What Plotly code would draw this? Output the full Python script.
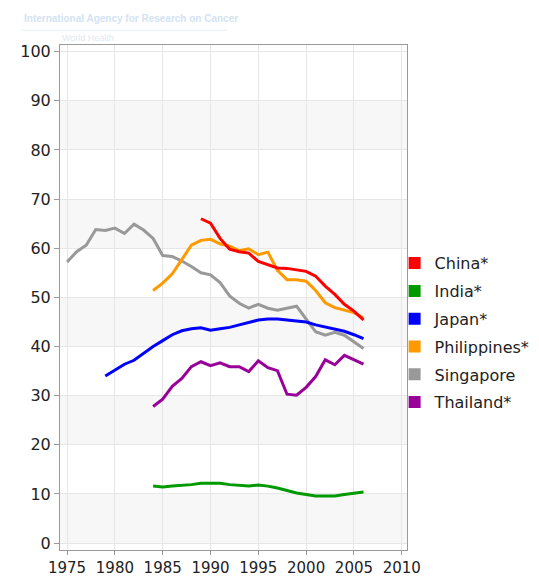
import plotly.graph_objects as go

# ---- data ----
countries = ["China*", "India*", "Japan*", "Philippines*", "Singapore", "Thailand*"]
colors = ["#ff0000", "#009900", "#0000ff", "#ff9900", "#999999", "#990099"]

china_years = list(range(1989, 2007))
china_vals = [66.0, 65.1, 62.0, 59.8, 59.3, 59.0, 57.3, 56.6, 56.0, 55.9,
              55.6, 55.3, 54.3, 52.3, 50.6, 48.6, 47.2, 45.4]

india_years = list(range(1984, 2007))
india_vals = [11.6, 11.4, 11.6, 11.7, 11.9, 12.2, 12.2, 12.2, 11.9, 11.8,
              11.6, 11.8, 11.6, 11.2, 10.7, 10.2, 9.9, 9.6, 9.6, 9.6,
              9.9, 10.2, 10.4]

japan_years = list(range(1979, 2007))
japan_vals = [34.0, 35.2, 36.4, 37.2, 38.6, 40.0, 41.2, 42.4, 43.2, 43.6,
              43.8, 43.3, 43.6, 43.9, 44.4, 44.9, 45.4, 45.6, 45.6, 45.4,
              45.2, 45.0, 44.4, 44.0, 43.6, 43.1, 42.4, 41.6]

philippines_years = list(range(1984, 2007))
philippines_vals = [51.4, 52.9, 54.8, 57.6, 60.6, 61.6, 61.8, 60.9, 60.4, 59.5,
                    59.9, 58.7, 59.2, 55.5, 53.6, 53.6, 53.3, 51.4, 48.9, 47.9,
                    47.4, 46.9, 45.8]

singapore_years = list(range(1975, 2007))
singapore_vals = [57.2, 59.3, 60.6, 63.8, 63.6, 64.1, 63.0, 64.9, 63.7, 62.0,
                  58.5, 58.3, 57.4, 56.3, 55.0, 54.6, 53.0, 50.3, 48.8, 47.8,
                  48.6, 47.8, 47.4, 47.8, 48.2, 45.6, 43.0, 42.3, 42.9, 42.3,
                  41.0, 39.6]

thailand_years = list(range(1984, 2007))
thailand_vals = [27.8, 29.3, 31.9, 33.5, 35.9, 36.9, 36.1, 36.7, 35.9, 35.9,
                 34.9, 37.1, 35.7, 35.1, 30.3, 30.1, 31.7, 33.9, 37.3, 36.3,
                 38.2, 37.3, 36.4]

x_ticks = [1975, 1980, 1985, 1990, 1995, 2000, 2005, 2010]
y_ticks = [0, 10, 20, 30, 40, 50, 60, 70, 80, 90, 100]

series = {
    "China*": (china_years, china_vals),
    "India*": (india_years, india_vals),
    "Japan*": (japan_years, japan_vals),
    "Philippines*": (philippines_years, philippines_vals),
    "Singapore": (singapore_years, singapore_vals),
    "Thailand*": (thailand_years, thailand_vals),
}
color_of = dict(zip(countries, colors))

fig = go.Figure()

draw_order = ["Singapore", "Thailand*", "India*", "Japan*", "Philippines*", "China*"]
for name in draw_order:
    xs, ys = series[name]
    fig.add_trace(go.Scatter(x=xs, y=ys, mode="lines", name=name,
                             line=dict(color=color_of[name], width=3),
                             showlegend=False, hoverinfo="x+y+name"))

# legend entries as coloured squares
for name in countries:
    fig.add_trace(go.Scatter(x=[None], y=[None], mode="markers", name=name,
                             legendgroup=name,
                             marker=dict(symbol="square", size=12, color=color_of[name]),
                             showlegend=True))

# alternating horizontal bands
shapes = []
for lo in range(0, 100, 20):
    shapes.append(dict(type="rect", xref="paper", yref="y", x0=0, x1=1,
                       y0=lo, y1=lo + 10, fillcolor="#f7f7f7",
                       line=dict(width=0), layer="below"))
# faint header rule
shapes.append(dict(type="line", xref="paper", yref="paper",
                   x0=-0.11, x1=0.48, y0=1.0 + 15 / 511.7, y1=1.0 + 15 / 511.7,
                   line=dict(color="#e4eef8", width=1)))

fig.update_layout(
    width=539, height=581,
    margin=dict(l=49, r=126, t=37, b=32),
    paper_bgcolor="white",
    plot_bgcolor="white",
    shapes=shapes,
    showlegend=True,
    legend=dict(
        x=(400 - 49) / 364, xanchor="left",
        y=(549 - 241) / 512, yanchor="top",
        font=dict(family="DejaVu Sans", size=16, color="#222222"),
        bgcolor="rgba(0,0,0,0)",
        tracegroupgap=4,
        itemwidth=30,
    ),
    font=dict(family="DejaVu Sans", color="#222222"),
    annotations=[
        dict(text="<b>International Agency for Research on Cancer</b>",
             xref="paper", yref="paper", x=-0.11, y=1.0 + 19 / 511.7,
             xanchor="left", yanchor="bottom", showarrow=False,
             font=dict(family="Liberation Sans", size=10,
                       color="#d3e3f3")),
        dict(text="World Health",
             xref="paper", yref="paper", x=0.0, y=1.0,
             xanchor="left", yanchor="bottom", showarrow=False,
             font=dict(family="Liberation Sans", size=9, color="#dfe8f1")),
    ],
)

fig.update_xaxes(
    range=[1974.26, 2010.55],
    tickvals=x_ticks,
    ticktext=[str(v) for v in x_ticks],
    showgrid=True, gridcolor="#e6e6e6", gridwidth=1,
    showline=True, linecolor="#9a9a9a", linewidth=1, mirror=True,
    ticks="outside", ticklen=4, tickcolor="#9a9a9a",
    tickfont=dict(family="DejaVu Sans", size=15, color="#222222"),
    zeroline=False,
)
fig.update_yaxes(
    range=[-1.4, 101.35],
    tickvals=y_ticks,
    showgrid=True, gridcolor="#e6e6e6", gridwidth=1,
    showline=True, linecolor="#9a9a9a", linewidth=1, mirror=True,
    ticks="outside", ticklen=5, tickcolor="#9a9a9a",
    tickfont=dict(family="DejaVu Sans", size=16, color="#222222"),
    zeroline=False,
)

fig.write_html("out.html")
